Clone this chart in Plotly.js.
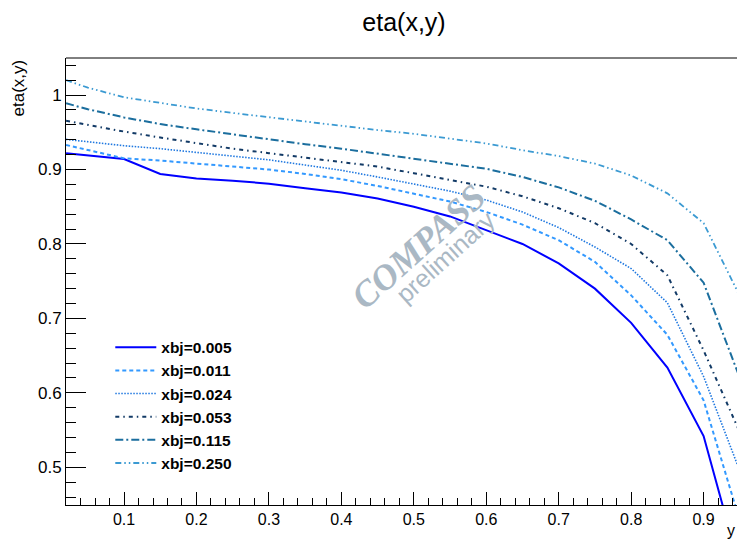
<!DOCTYPE html>
<html>
<head>
<meta charset="utf-8">
<script src="https://cdn.plot.ly/plotly-3.0.1.min.js"></script>
<style>html,body{margin:0;padding:0;background:#fff;}#chart{width:737px;height:542px;}</style>
</head>
<body>
<div id="chart"></div>
<script>
// y (inelasticity) sample points
const yVals = [0.02, 0.05, 0.10, 0.15, 0.20, 0.25, 0.30, 0.35, 0.40, 0.45, 0.50, 0.55, 0.60, 0.65, 0.70, 0.75, 0.80, 0.85, 0.90, 0.95];
// eta(x,y) for each xbj
const eta_x0005 = [0.922, 0.919, 0.914, 0.894, 0.888, 0.885, 0.881, 0.875, 0.869, 0.861, 0.850, 0.837, 0.819, 0.800, 0.774, 0.740, 0.694, 0.634, 0.542, 0.365];
const eta_x0011 = [0.933, 0.926, 0.915, 0.912, 0.908, 0.904, 0.900, 0.894, 0.887, 0.878, 0.867, 0.857, 0.843, 0.826, 0.805, 0.776, 0.731, 0.678, 0.590, 0.428];
const eta_x0024 = [0.9405, 0.937, 0.932, 0.928, 0.923, 0.918, 0.913, 0.906, 0.899, 0.890, 0.881, 0.871, 0.859, 0.843, 0.822, 0.796, 0.767, 0.721, 0.622, 0.495];
const eta_x0053 = [0.9655, 0.960, 0.951, 0.943, 0.935, 0.928, 0.922, 0.916, 0.911, 0.904, 0.895, 0.886, 0.877, 0.864, 0.848, 0.828, 0.800, 0.758, 0.657, 0.547];
const eta_x0115 = [0.989, 0.981, 0.970, 0.961, 0.954, 0.947, 0.940, 0.934, 0.928, 0.921, 0.914, 0.907, 0.901, 0.890, 0.876, 0.858, 0.833, 0.805, 0.748, 0.620];
const eta_x0250 = [1.020, 1.010, 0.997, 0.989, 0.982, 0.976, 0.970, 0.965, 0.959, 0.953, 0.948, 0.942, 0.935, 0.926, 0.918, 0.908, 0.892, 0.868, 0.828, 0.730];
const seriesNames = ['xbj=0.005', 'xbj=0.011', 'xbj=0.024', 'xbj=0.053', 'xbj=0.115', 'xbj=0.250'];
const seriesData = [eta_x0005, eta_x0011, eta_x0024, eta_x0053, eta_x0115, eta_x0250];

const styles = [
  {color: '#0000ff', dash: 'solid', width: 2},
  {color: '#3399ff', dash: '4px,3px', width: 2},
  {color: '#1f78e0', dash: '1.5px,1.5px', width: 1.6},
  {color: '#123a66', dash: '4px,4px,1.5px,4px', width: 2},
  {color: '#1b6e9e', dash: '8px,3px,2px,3px', width: 2},
  {color: '#3b9ad2', dash: '6px,3px,1.5px,3px,1.5px,3px', width: 1.8}
];

const traces = seriesData.map((d, i) => ({
  x: yVals, y: d, type: 'scatter', mode: 'lines', name: seriesNames[i],
  line: {color: styles[i].color, dash: styles[i].dash, width: styles[i].width},
  hoverinfo: 'skip'
}));

const FONT = 'Liberation Sans, Arial, Helvetica, sans-serif';

const layout = {
  width: 737, height: 542,
  margin: {l: 66, r: 0, t: 58, b: 37, pad: 0},
  paper_bgcolor: '#ffffff', plot_bgcolor: '#ffffff',
  font: {family: FONT, color: '#000'},
  title: {text: 'eta(x,y)', font: {family: FONT, size: 25, color: '#000'}, x: (404-66)/671, xref: 'paper', xanchor: 'center', y: 1 - 22/542, yref: 'container', yanchor: 'middle'},
  showlegend: true,
  legend: {
    x: 0.066, xanchor: 'left', y: 0.39, yanchor: 'top',
    bgcolor: 'rgba(0,0,0,0)', borderwidth: 0,
    font: {family: FONT, size: 15.5, color: '#000', weight: 'bold'},
    itemwidth: 41, tracegroupgap: 0
  },
  xaxis: {
    range: [0.0199, 0.9461], autorange: false,
    showgrid: false, zeroline: false,
    showline: true, linecolor: '#000', linewidth: 1,
    ticks: 'inside', ticklen: 13, tickwidth: 1, tickcolor: '#000',
    tick0: 0, dtick: 0.1,
    minor: {ticks: 'inside', ticklen: 7, dtick: 0.02, tick0: 0, tickcolor: '#000', tickwidth: 1, showgrid: false},
    tickfont: {family: FONT, size: 16, color: '#000'},
    fixedrange: true
  },
  yaxis: {
    range: [0.4494, 1.0498], autorange: false,
    showgrid: false, zeroline: false,
    showline: true, linecolor: '#000', linewidth: 1,
    ticks: 'inside', ticklen: 20, tickwidth: 1, tickcolor: '#000',
    tick0: 0, dtick: 0.1,
    minor: {ticks: 'inside', ticklen: 10, dtick: 0.02, tick0: 0, tickcolor: '#000', tickwidth: 1, showgrid: false},
    tickfont: {family: FONT, size: 17, color: '#000'},
    fixedrange: true
  },
  shapes: [
    {type: 'line', xref: 'paper', yref: 'paper', x0: 0, x1: 1, y0: 1, y1: 1, line: {color: '#000', width: 1}}
  ],
  annotations: [
    {text: 'eta(x,y)', xref: 'paper', yref: 'paper', x: -48/671, y: 1, xanchor: 'center', yanchor: 'top', textangle: -90, showarrow: false, font: {family: FONT, size: 17, color: '#000'}},
    {text: 'y', xref: 'paper', yref: 'paper', x: 1, y: -36/447, xanchor: 'right', yanchor: 'bottom', showarrow: false, font: {family: FONT, size: 16, color: '#000'}},
    {text: '<i><b>COMPASS</b></i>', xref: 'paper', yref: 'paper', x: (418-66)/671, y: (505-247)/447, xanchor: 'center', yanchor: 'middle', textangle: -42, showarrow: false, font: {family: 'Liberation Serif, Times New Roman, serif', size: 36, color: 'rgb(170,184,196)'}},
    {text: 'preliminary', xref: 'paper', yref: 'paper', x: (445-66)/671, y: (505-257)/447, xanchor: 'center', yanchor: 'middle', textangle: -42, showarrow: false, font: {family: FONT, size: 25, color: 'rgb(170,184,196)'}}
  ]
};

Plotly.newPlot('chart', traces, layout, {staticPlot: true, displayModeBar: false});
</script>
</body>
</html>
